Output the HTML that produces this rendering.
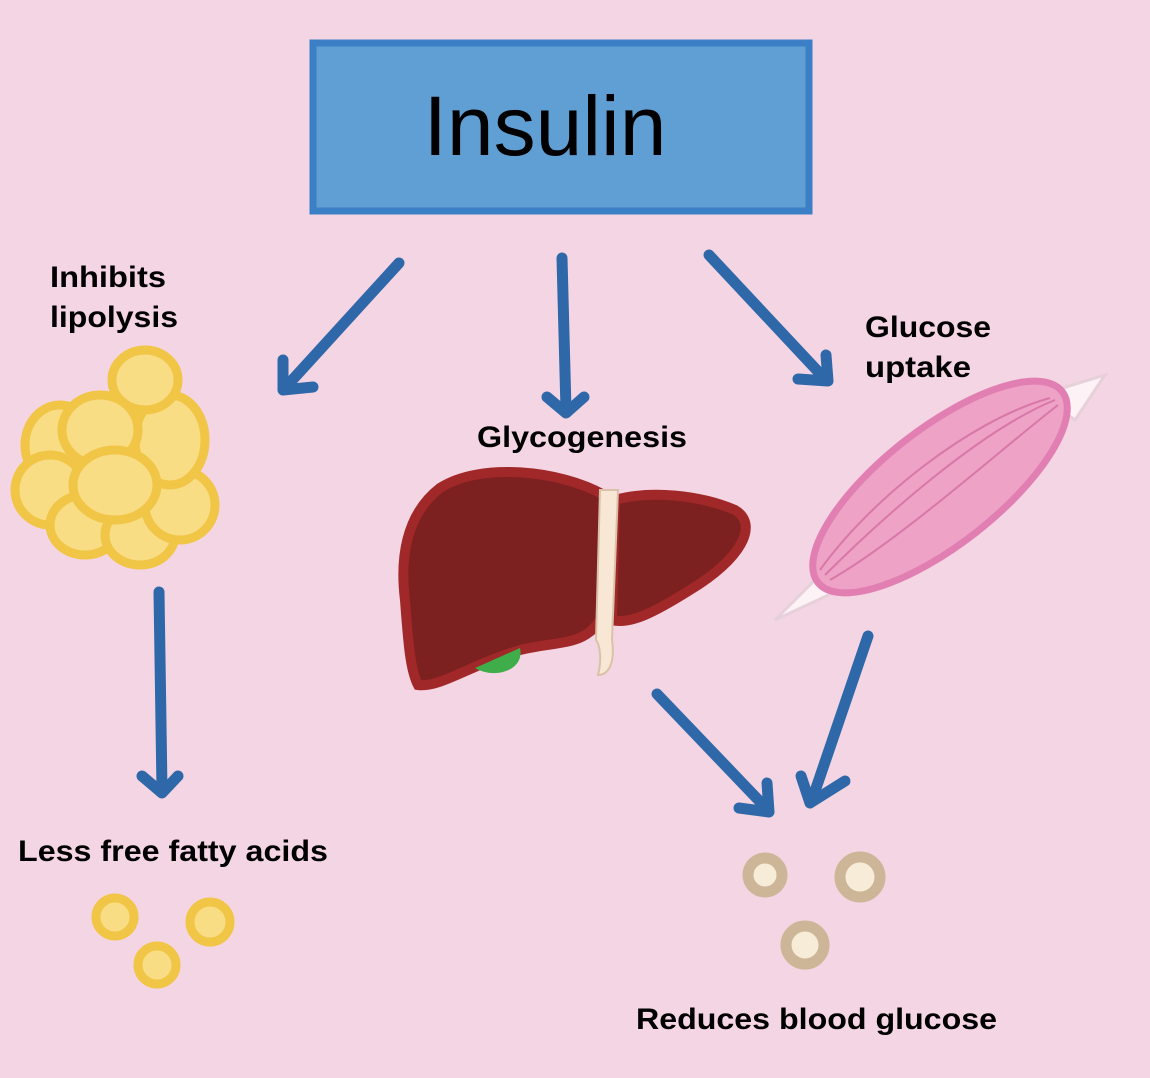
<!DOCTYPE html>
<html><head><meta charset="utf-8"><style>
html,body{margin:0;padding:0;background:#f4d5e3;}
svg{display:block}
text{font-family:"Liberation Sans",sans-serif;}
</style></head><body>
<svg width="1150" height="1078" viewBox="0 0 1150 1078" xmlns="http://www.w3.org/2000/svg">
<rect width="1150" height="1078" fill="#f4d5e3"/>
<rect x="313" y="43" width="496" height="168" fill="#5f9fd4" stroke="#3b7fc6" stroke-width="7"/>
<text x="545" y="155" font-size="84" text-anchor="middle" fill="#000">Insulin</text>
<g font-size="30" font-weight="bold" fill="#000" lengthAdjust="spacingAndGlyphs">
<text x="50" y="287" textLength="116" lengthAdjust="spacingAndGlyphs">Inhibits</text>
<text x="50" y="327" textLength="128" lengthAdjust="spacingAndGlyphs">lipolysis</text>
<text x="865" y="337" textLength="126" lengthAdjust="spacingAndGlyphs">Glucose</text>
<text x="865" y="377" textLength="106" lengthAdjust="spacingAndGlyphs">uptake</text>
<text x="477" y="447" textLength="210" lengthAdjust="spacingAndGlyphs">Glycogenesis</text>
<text x="18" y="861" textLength="310" lengthAdjust="spacingAndGlyphs">Less free fatty acids</text>
<text x="636" y="1029" textLength="361" lengthAdjust="spacingAndGlyphs">Reduces blood glucose</text>
</g>
<g stroke="#2f68a8" stroke-width="11" stroke-linecap="round" stroke-linejoin="round" fill="none">
<path d="M399 263 L285 388"/><path d="M283 360 L283 390 L313 387"/>
<path d="M562 258 L566 410"/><path d="M547 397 L566 413 L584 397"/>
<path d="M709 255 L826 380"/><path d="M798 379 L828 381 L826 355"/>
<path d="M159 592 L162 790"/><path d="M142 776 L162 793 L178 776"/>
<path d="M657 694 L768 810"/><path d="M739 808 L769 812 L767 783"/>
<path d="M868 636 L812 800"/><path d="M801 776 L810 803 L845 781"/>
</g>
<g fill="#f8dd85" stroke="#f1c546" stroke-width="9">
<ellipse cx="60" cy="445" rx="35" ry="40"/>
<ellipse cx="50" cy="490" rx="35" ry="35"/>
<ellipse cx="85" cy="525" rx="35" ry="30"/>
<ellipse cx="140" cy="535" rx="35" ry="30"/>
<ellipse cx="180" cy="505" rx="35" ry="35"/>
<ellipse cx="170" cy="440" rx="35" ry="45"/>
<ellipse cx="145" cy="380" rx="33" ry="30"/>
<ellipse cx="100" cy="430" rx="38" ry="35"/>
<ellipse cx="115" cy="485" rx="42" ry="35"/>
</g>
<path d="M604 495 C560 470 480 462 440 488 C405 515 400 560 405 600 C408 640 410 670 418 685 C440 688 470 665 520 650 C560 640 590 648 605 610 Z" fill="#7c2020" stroke="#a12828" stroke-width="10"/>
<path d="M520 648 C525 670 495 680 475 668" fill="#3fae4a"/>
<path d="M615 500 C650 490 700 495 735 510 C760 525 740 560 690 590 C655 612 630 625 612 620 Z" fill="#7c2020" stroke="#a12828" stroke-width="10"/>
<path d="M600 490 L618 490 L612 640 C615 660 610 675 598 675 C602 660 600 645 596 640 Z" fill="#f8e7d4" stroke="#d9c2a8" stroke-width="2"/>
<polygon points="1040,395 1105,375 1075,420" fill="#fdf2f6" stroke="#e6d0da" stroke-width="3"/>
<polygon points="820,575 775,620 850,585" fill="#fdf2f6" stroke="#e6d0da" stroke-width="3"/>
<ellipse cx="940" cy="487" rx="155" ry="58" transform="rotate(-38 940 487)" fill="#eda2c6" stroke="#e27fb2" stroke-width="7"/>
<g stroke="#d877a8" stroke-width="2" fill="none">
<path d="M825 575 C880 520 980 430 1055 400"/>
<path d="M820 570 C870 500 970 420 1050 398"/>
<path d="M830 580 C900 540 1000 450 1058 405"/>
</g>
<g fill="#f8dd85" stroke="#f1c546" stroke-width="9">
<circle cx="115" cy="917" r="19"/><circle cx="210" cy="922" r="20"/><circle cx="157" cy="965" r="19"/>
</g>
<g fill="#f6ecd8" stroke="#cdb597" stroke-width="11">
<circle cx="765" cy="875" r="17"/><circle cx="860" cy="877" r="20"/><circle cx="805" cy="945" r="19"/>
</g>
</svg>
</body></html>
